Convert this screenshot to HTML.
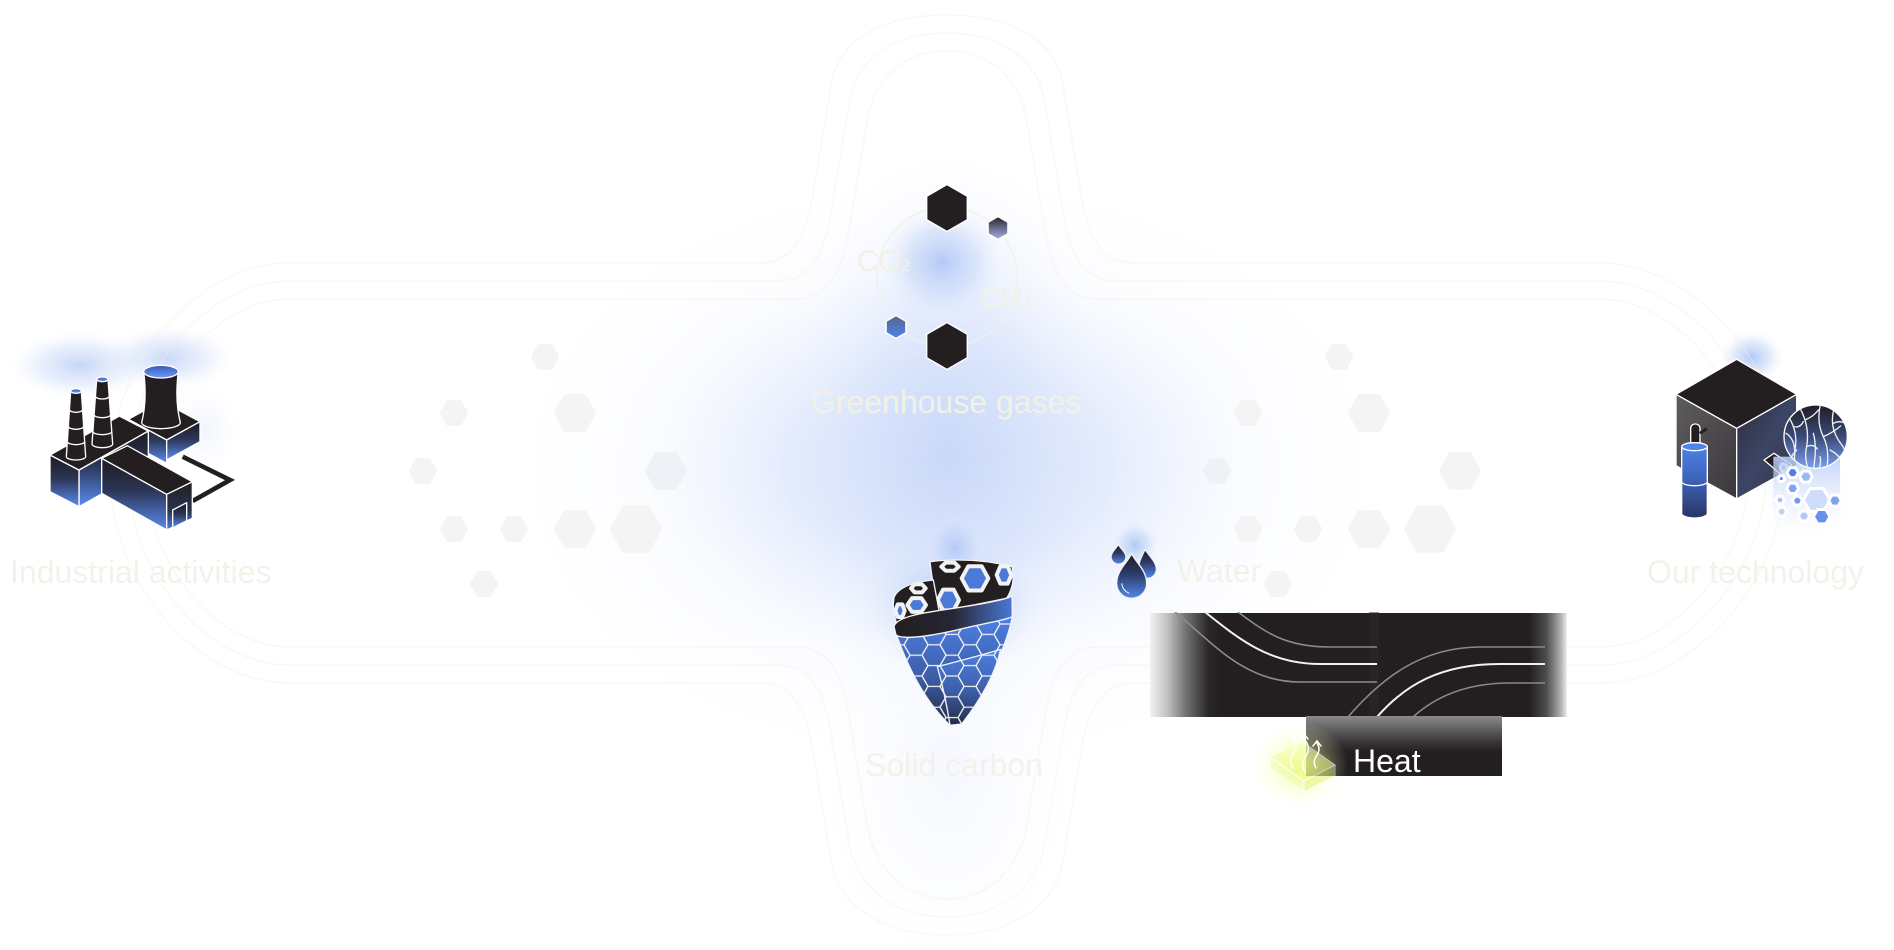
<!DOCTYPE html>
<html>
<head>
<meta charset="utf-8">
<style>
html,body{margin:0;padding:0;background:#ffffff;}
body{width:1894px;height:950px;overflow:hidden;}
svg{display:block;}
text{font-family:"Liberation Sans",Arial,sans-serif;}
</style>
</head>
<body>
<svg width="1894" height="950" viewBox="0 0 1894 950" xmlns="http://www.w3.org/2000/svg">
<defs>
  <radialGradient id="rgMain"><stop offset="0" stop-color="#c9d8f9" stop-opacity="1"/><stop offset="0.5" stop-color="#d6e2fb" stop-opacity="0.65"/><stop offset="1" stop-color="#eef3fe" stop-opacity="0"/></radialGradient>
  <radialGradient id="rgStrong"><stop offset="0" stop-color="#b3c9f6" stop-opacity="1"/><stop offset="0.55" stop-color="#c6d7f8" stop-opacity="0.55"/><stop offset="1" stop-color="#e6eefd" stop-opacity="0"/></radialGradient>
  <radialGradient id="rgSoft"><stop offset="0" stop-color="#f0f4fd" stop-opacity="1"/><stop offset="1" stop-color="#f8faff" stop-opacity="0"/></radialGradient>
  <radialGradient id="rgYellow"><stop offset="0" stop-color="#e8ff5a" stop-opacity="0.7"/><stop offset="0.5" stop-color="#f0ff96" stop-opacity="0.35"/><stop offset="1" stop-color="#fbffe0" stop-opacity="0"/></radialGradient>

  <linearGradient id="fblue" x1="0" y1="0" x2="0" y2="1"><stop offset="0" stop-color="#1d1b22"/><stop offset="0.45" stop-color="#2c3556"/><stop offset="1" stop-color="#5a8cf0"/></linearGradient>
  <linearGradient id="fblue2" x1="0" y1="0" x2="0" y2="1"><stop offset="0" stop-color="#231f20"/><stop offset="0.6" stop-color="#2a3350"/><stop offset="1" stop-color="#4f7fe0"/></linearGradient>
  <linearGradient id="ftop" x1="0" y1="0" x2="0" y2="1"><stop offset="0" stop-color="#3759b8"/><stop offset="1" stop-color="#6f9bf6"/></linearGradient>
  <linearGradient id="hexTR" x1="0" y1="0" x2="0" y2="1"><stop offset="0" stop-color="#262229"/><stop offset="1" stop-color="#aab2e8"/></linearGradient>
  <linearGradient id="hexBL" x1="0" y1="0" x2="0" y2="1"><stop offset="0" stop-color="#5b6486"/><stop offset="1" stop-color="#4a85ee"/></linearGradient>
  <linearGradient id="coneBody" x1="0" y1="0" x2="0" y2="1"><stop offset="0" stop-color="#4d80e6"/><stop offset="0.55" stop-color="#3d5ea8"/><stop offset="1" stop-color="#232b45"/></linearGradient>
  <linearGradient id="coneBand" x1="0" y1="0" x2="1" y2="0"><stop offset="0" stop-color="#231f20"/><stop offset="0.5" stop-color="#262633"/><stop offset="1" stop-color="#4a78d8"/></linearGradient>
  <linearGradient id="drop" x1="0" y1="0" x2="0" y2="1"><stop offset="0" stop-color="#1f1c22"/><stop offset="0.45" stop-color="#2d3a66"/><stop offset="1" stop-color="#5288ee"/></linearGradient>
  <linearGradient id="band" x1="1150" y1="0" x2="1567" y2="0" gradientUnits="userSpaceOnUse">
    <stop offset="0" stop-color="#f2f2f2"/><stop offset="0.04" stop-color="#c4c4c4"/><stop offset="0.09" stop-color="#6e6c6d"/><stop offset="0.14" stop-color="#2a2728"/><stop offset="0.17" stop-color="#231f20"/>
    <stop offset="0.91" stop-color="#231f20"/><stop offset="0.95" stop-color="#4e4c4d"/><stop offset="0.985" stop-color="#b0b0b0"/><stop offset="1" stop-color="#eeeeee"/>
  </linearGradient>
  <linearGradient id="heatbox" x1="0" y1="0" x2="0" y2="1"><stop offset="0" stop-color="#8a8a8a"/><stop offset="0.42" stop-color="#3b3839"/><stop offset="0.6" stop-color="#231f20"/><stop offset="1" stop-color="#231f20"/></linearGradient>
  <linearGradient id="cubeL" x1="0" y1="0" x2="1" y2="1"><stop offset="0" stop-color="#5e5c5e"/><stop offset="1" stop-color="#3a383b"/></linearGradient>
  <linearGradient id="cubeR" x1="0" y1="0" x2="1" y2="1"><stop offset="0" stop-color="#2f2e3a"/><stop offset="0.5" stop-color="#3c4566"/><stop offset="1" stop-color="#353539"/></linearGradient>
  <linearGradient id="tank" x1="0" y1="0" x2="0" y2="1"><stop offset="0" stop-color="#4f84ec"/><stop offset="0.5" stop-color="#3d62b8"/><stop offset="1" stop-color="#2a3464"/></linearGradient>
  <linearGradient id="sphere" x1="0" y1="0" x2="0" y2="1"><stop offset="0" stop-color="#1f1d26"/><stop offset="0.5" stop-color="#3a4a78"/><stop offset="1" stop-color="#7aa0f0"/></linearGradient>
  <linearGradient id="hexFade" x1="0" y1="0" x2="0" y2="1"><stop offset="0" stop-color="#b9cdf8" stop-opacity="0.9"/><stop offset="1" stop-color="#eef3fe" stop-opacity="0"/></linearGradient>
  <linearGradient id="slab" x1="0" y1="0" x2="0" y2="1"><stop offset="0" stop-color="#f6ffb8"/><stop offset="1" stop-color="#e8f77a"/></linearGradient>

  <pattern id="hexpat" width="108" height="62.4" patternUnits="userSpaceOnUse">
    <path d="M0 31.2 L18 0 L54 0 L72 31.2 L54 62.4 L18 62.4 Z M72 31.2 L108 31.2" fill="none" stroke="#f2f2f2" stroke-width="4" stroke-linejoin="round"/>
  </pattern>

  <path id="hx" d="M-1 0 L-0.5 -0.866 L0.5 -0.866 L1 0 L0.5 0.866 L-0.5 0.866Z" vector-effect="non-scaling-stroke"/>
  <path id="hp" d="M0 -1 L0.866 -0.5 L0.866 0.5 L0 1 L-0.866 0.5 L-0.866 -0.5Z" vector-effect="non-scaling-stroke"/>

  <clipPath id="bandClipL"><rect x="1150" y="612" width="228" height="105"/></clipPath>
  <clipPath id="bandClipR"><rect x="1320" y="612" width="247" height="105"/></clipPath>
  <clipPath id="sphereClip"><circle cx="647" cy="410" r="93"/></clipPath>
</defs>

<!-- background glows -->
<ellipse cx="948" cy="470" rx="440" ry="300" fill="url(#rgMain)" opacity="0.35"/>
<ellipse cx="948" cy="465" rx="300" ry="200" fill="url(#rgMain)" opacity="0.95"/>
<ellipse cx="948" cy="440" rx="160" ry="290" fill="url(#rgMain)" opacity="0.7"/>
<ellipse cx="947" cy="770" rx="130" ry="200" fill="url(#rgSoft)" opacity="0.7"/>
<ellipse cx="942" cy="262" rx="62" ry="58" fill="url(#rgStrong)"/>
<ellipse cx="952" cy="605" rx="95" ry="70" fill="url(#rgStrong)" opacity="0.85"/>
<ellipse cx="955" cy="548" rx="30" ry="35" fill="url(#rgStrong)"/>
<ellipse cx="1135" cy="545" rx="24" ry="24" fill="url(#rgStrong)"/>
<ellipse cx="80" cy="365" rx="70" ry="34" fill="url(#rgStrong)" opacity="0.75"/>
<ellipse cx="168" cy="358" rx="65" ry="32" fill="url(#rgStrong)" opacity="0.7"/>
<ellipse cx="205" cy="430" rx="35" ry="45" fill="url(#rgSoft)"/>
<ellipse cx="1752" cy="357" rx="32" ry="26" fill="url(#rgStrong)"/>
<ellipse cx="1805" cy="495" rx="50" ry="45" fill="url(#rgSoft)"/>

<!-- faint outline shape (three concentric lines) -->
<g fill="none" stroke="#efeee4" stroke-width="1.3" opacity="0.42">
  <path d="M289 263 L760 263 C790 263 805 240 812 200 L832 80 C842 35 890 15 947 15 C1004 15 1052 35 1062 80 L1082 200 C1089 240 1104 263 1134 263 L1600 263 C1690 263 1784 360 1784 473 C1784 586 1690 683 1600 683 L1134 683 C1104 683 1089 706 1082 746 L1062 866 C1052 911 1004 935 947 935 C890 935 842 911 832 866 L812 746 C805 706 790 683 760 683 L289 683 C200 683 110 586 110 473 C110 360 200 263 289 263 Z"/>
  <path d="M289 281 L778 281 C808 281 823 258 830 218 L850 98 C860 53 900 33 947 33 C994 33 1034 53 1044 98 L1064 218 C1071 258 1086 281 1116 281 L1600 281 C1680 281 1766 370 1766 473 C1766 576 1680 665 1600 665 L1116 665 C1086 665 1071 688 1064 728 L1044 848 C1034 893 994 917 947 917 C900 917 860 893 850 848 L830 728 C823 688 808 665 778 665 L289 665 C210 665 128 576 128 473 C128 370 210 281 289 281 Z"/>
  <path d="M289 299 L796 299 C826 299 841 276 848 236 L868 116 C878 71 910 51 947 51 C984 51 1016 71 1026 116 L1046 236 C1053 276 1068 299 1098 299 L1600 299 C1672 299 1748 380 1748 473 C1748 566 1672 647 1600 647 L1098 647 C1068 647 1053 670 1046 710 L1026 830 C1016 875 984 899 947 899 C910 899 878 875 868 830 L848 710 C841 670 826 647 796 647 L289 647 C218 647 146 566 146 473 C146 380 218 299 289 299 Z"/>
</g>

<!-- faint hex clusters -->
<g fill="#f4f4f4" stroke="#f4f4f4" stroke-width="4" stroke-linejoin="round">
  <use href="#hx" transform="translate(545,357) scale(12,12.6)"/>
  <use href="#hx" transform="translate(454,413) scale(12,12.6)"/>
  <use href="#hx" transform="translate(575,413) scale(19,19.5)"/>
  <use href="#hx" transform="translate(423,471) scale(12,12.6)"/>
  <use href="#hx" transform="translate(666,471) scale(19,19.5)" fill="#eff1f6" stroke="#eff1f6"/>
  <use href="#hx" transform="translate(454,529) scale(12,12.6)"/>
  <use href="#hx" transform="translate(514,529) scale(12,12.6)"/>
  <use href="#hx" transform="translate(575,529) scale(19,19.5)"/>
  <use href="#hx" transform="translate(636,529) scale(24,25)"/>
  <use href="#hx" transform="translate(484,584) scale(12,12.6)"/>

  <use href="#hx" transform="translate(1339,357) scale(12,12.6)"/>
  <use href="#hx" transform="translate(1248,413) scale(12,12.6)"/>
  <use href="#hx" transform="translate(1369,413) scale(19,19.5)"/>
  <use href="#hx" transform="translate(1217,471) scale(12,12.6)" fill="#eff1f6" stroke="#eff1f6"/>
  <use href="#hx" transform="translate(1460,471) scale(19,19.5)"/>
  <use href="#hx" transform="translate(1248,529) scale(12,12.6)"/>
  <use href="#hx" transform="translate(1308,529) scale(12,12.6)"/>
  <use href="#hx" transform="translate(1369,529) scale(19,19.5)"/>
  <use href="#hx" transform="translate(1430,529) scale(24,25)"/>
  <use href="#hx" transform="translate(1278,584) scale(12,12.6)"/>
</g>

<!-- molecule ring -->
<circle cx="947" cy="277" r="70" fill="none" stroke="#f1efe4" stroke-width="1.4" opacity="0.8"/>
<g stroke="#ffffff" stroke-width="1.5" stroke-linejoin="round">
  <use href="#hp" transform="translate(947,208) scale(23.5)" fill="#231f20"/>
  <use href="#hp" transform="translate(947,346) scale(23.5)" fill="#231f20"/>
  <use href="#hp" transform="translate(998,228) scale(11.5)" fill="url(#hexTR)"/>
  <use href="#hp" transform="translate(896,327) scale(11.5)" fill="url(#hexBL)"/>
</g>
<text x="857" y="271" font-size="30" fill="#f3f1e6" letter-spacing="-0.5">CO<tspan font-size="17">2</tspan></text>
<text x="980" y="308" font-size="30" fill="#f3f1e6" letter-spacing="-0.5">CH<tspan font-size="17">4</tspan></text>

<!-- FACTORY -->
<g transform="translate(0,300) scale(0.33333)" stroke="#ffffff" stroke-width="4" stroke-linejoin="round">
  <polygon points="385,358 485,303 600,365 500,420" fill="#231f20"/>
  <polygon points="385,358 500,420 500,490 385,428" fill="url(#fblue)"/>
  <polygon points="500,420 600,365 600,425 500,480" fill="url(#fblue)"/>
  <path d="M548 470 L690 540 L578 603" fill="none" stroke="#ffffff" stroke-width="22" stroke-linejoin="miter"/>
  <path d="M548 470 L690 540 L578 603" fill="none" stroke="#231f20" stroke-width="14" stroke-linejoin="miter"/>
  <polygon points="237,510 445,393 445,503 237,620" fill="url(#fblue)"/>
  <polygon points="150,465 237,510 237,620 150,575" fill="url(#fblue)"/>
  <polygon points="150,465 358,348 445,393 237,510" fill="#231f20"/>
  <polygon points="305,475 500,583 500,690 305,580" fill="url(#fblue)"/>
  <polygon points="500,583 577,545 577,655 500,690" fill="url(#fblue2)"/>
  <polygon points="305,475 382,437 577,545 500,583" fill="#231f20"/>
  <polygon points="518,630 560,608 560,662 518,684" fill="url(#fblue)"/>
  <path d="M212 273 L199 470 A29 10 0 0 0 257 470 L244 273 Z" fill="#231f20"/>
  <path d="M209.7 330 A18.3 7 0 0 0 246.3 330 M205.9 380 A22.1 8 0 0 0 250.1 380 M202.4 425 A25.6 9 0 0 0 253.6 425" fill="none"/>
  <ellipse cx="228" cy="273" rx="16" ry="7" fill="url(#ftop)"/>
  <path d="M290 238 L276 432 A31 11 0 0 0 338 432 L324 238 Z" fill="#231f20"/>
  <path d="M287.7 290 A19.3 7 0 0 0 326.3 290 M283.2 345 A23.8 8 0 0 0 330.8 345 M279.1 395 A27.9 9 0 0 0 334.9 395" fill="none"/>
  <ellipse cx="307" cy="238" rx="17" ry="7" fill="url(#ftop)"/>
  <path d="M431 215 Q442 300 425 368 A58 18 0 0 0 541 368 Q524 300 535 215 Z" fill="#231f20"/>
  <ellipse cx="483" cy="215" rx="52" ry="19" fill="url(#ftop)"/>
</g>
<text x="10" y="583" font-size="32" fill="#f3f2ea">Industrial activities</text>

<!-- SOLID CARBON cone + water (zoom5 coords) -->
<g transform="translate(850,520) scale(0.33333)" stroke="#f4f4f4" stroke-width="4" stroke-linejoin="round">
  <path d="M240 125 Q370 110 486 140 Q498 190 470 235 L268 276 Q248 200 240 125 Z" fill="#231f20"/>
  <g fill="#4a7ad8" stroke="#f2f2f2" stroke-width="4">
    <use href="#hx" transform="translate(375,175) scale(40,42)"/>
    <use href="#hx" transform="translate(295,240) scale(32,36)"/>
    <use href="#hx" transform="translate(462,165) scale(22,30)"/>
    <use href="#hx" transform="translate(300,140) scale(26,14)" fill="#231f20"/>
  </g>
  <path d="M132 232 Q150 190 250 180 L268 276 Q200 290 140 310 Q125 270 132 232 Z" fill="#231f20"/>
  <g fill="#4a7ad8" stroke="#f2f2f2" stroke-width="4">
    <use href="#hx" transform="translate(200,255) scale(28,24)"/>
    <use href="#hx" transform="translate(150,272) scale(14,22)"/>
    <use href="#hx" transform="translate(205,205) scale(22,14)" fill="#231f20"/>
  </g>
  <!-- cone body -->
  <path d="M138 340 C160 360 230 350 320 330 C400 310 470 300 487 290 Q462 420 335 612 L300 616 Q200 520 138 340 Z" fill="url(#coneBody)"/>
  <path d="M138 340 C160 360 230 350 320 330 C400 310 470 300 487 290 Q462 420 335 612 L300 616 Q200 520 138 340 Z" fill="url(#hexpat)" stroke="none"/>
  <!-- front overlapping sheet -->
  <path d="M262 440 C320 425 395 405 452 388 Q430 490 335 612 L300 616 Q285 520 262 440 Z" fill="url(#coneBody)"/>
  <path d="M262 440 C320 425 395 405 452 388 Q430 490 335 612 L300 616 Q285 520 262 440 Z" fill="url(#hexpat)" stroke="none"/>
  <!-- dark band -->
  <path d="M132 320 C140 285 250 275 330 262 C420 248 470 238 486 228 L487 290 C470 300 400 310 320 330 C230 350 160 360 138 345 Z" fill="url(#coneBand)"/>

  <!-- water drops -->
  <path d="M805 72 C810 85 828 96 828 110 A22 22 0 0 1 783 110 C783 96 800 85 805 72 Z" fill="url(#drop)"/>
  <path d="M885 88 C895 105 919 125 919 148 A27 27 0 0 1 865 148 C865 125 878 105 885 88 Z" fill="url(#drop)"/>
  <path d="M845 100 C855 125 890 150 890 190 A45 45 0 0 1 800 190 C800 150 835 125 845 100 Z" fill="url(#drop)"/>
  <path d="M815 190 Q818 212 838 220" fill="none" stroke-width="3"/>
</g>
<text x="865" y="776" font-size="32" fill="#f3f2ea">Solid carbon</text>
<text x="811" y="413" font-size="32" fill="#f3f1e6">Greenhouse gases</text>
<text x="1177" y="582" font-size="32" fill="#f3f2ea">Water</text>

<!-- DARK BAND with curves -->
<rect x="1150" y="613" width="417" height="104" fill="url(#band)"/>
<rect x="1369" y="612" width="10" height="105" fill="#2c292a" opacity="0.5"/>
<g fill="none" clip-path="url(#bandClipL)">
  <path d="M1175 612 C1215 645 1245 682 1300 682 L1377 682" stroke="#8c8c8c" stroke-width="1.6"/>
  <path d="M1205 612 C1240 640 1270 664 1320 664 L1377 664" stroke="#f2f2f2" stroke-width="2"/>
  <path d="M1238 612 C1265 632 1285 647 1330 647 L1377 647" stroke="#8a8a8a" stroke-width="1.6"/>
</g>
<g fill="none" clip-path="url(#bandClipR)">
  <path d="M1348 717 C1380 680 1420 647 1480 647 L1545 647" stroke="#8a8a8a" stroke-width="1.6"/>
  <path d="M1377 717 C1405 685 1440 664 1500 664 L1545 664" stroke="#f2f2f2" stroke-width="2"/>
  <path d="M1413 717 C1435 697 1465 683 1510 683 L1545 683" stroke="#8a8a8a" stroke-width="1.6"/>
</g>

<!-- HEAT box -->
<rect x="1306" y="716" width="196" height="60" fill="url(#heatbox)"/>
<text x="1353" y="772" font-size="32" fill="#ffffff">Heat</text>
<ellipse cx="1300" cy="765" rx="48" ry="44" fill="url(#rgYellow)"/>
<g stroke="#ffffff" stroke-width="1.2" stroke-linejoin="round" opacity="0.75">
  <polygon points="1270,757 1301,741 1335,765 1304,781" fill="url(#slab)" opacity="0.75"/>
  <polygon points="1270,757 1304,781 1304,792 1270,768" fill="#eef9a0" opacity="0.6"/>
  <polygon points="1304,781 1335,765 1335,776 1304,792" fill="#e0f070" opacity="0.6"/>
</g>
<g fill="none" stroke="#ffffff" stroke-width="1.5" stroke-linecap="round">
  <path d="M1293 768 Q1288 760 1294 752 Q1299 744 1293 736 L1292 729"/>
  <path d="M1288 733 L1292 728 L1296 733"/>
  <path d="M1305 772 Q1300 764 1306 756 Q1311 748 1305 740 L1304 735"/>
  <path d="M1300 739 L1304 734 L1308 739"/>
  <path d="M1316 768 Q1312 762 1317 755 Q1321 749 1317 743"/>
  <path d="M1313 746 L1317 741 L1321 746"/>
</g>

<!-- TECH icon (zoom4 coords) -->
<g transform="translate(1600,300) scale(0.33333)" stroke="#ffffff" stroke-width="4" stroke-linejoin="round">
  <polygon points="228,283 410,385 410,597 228,497" fill="url(#cubeL)"/>
  <polygon points="410,385 590,283 590,497 410,597" fill="url(#cubeR)"/>
  <polygon points="228,283 410,178 590,283 410,385" fill="#231f20"/>
  <path d="M492 480 L522 460 L575 495 L545 525 Z" fill="#231f20"/>
  <ellipse cx="555" cy="508" rx="14" ry="21" transform="rotate(-35 555 508)" fill="#e8eefc"/>
  <circle cx="551" cy="503" r="5" fill="#4a7fe8" stroke="none"/>
  <circle cx="560" cy="514" r="4" fill="#4a7fe8" stroke="none"/>
  <rect x="520" y="470" width="200" height="215" fill="url(#hexFade)" stroke="none"/>
  <g stroke="#ffffff" stroke-width="3">
    <use href="#hx" transform="translate(650,600) scale(40)" fill="#cfdcfa"/>
    <use href="#hx" transform="translate(578,518) scale(17)" fill="#4a7fe8"/>
    <use href="#hx" transform="translate(544,536) scale(10)" fill="#4a7fe8"/>
    <use href="#hx" transform="translate(618,530) scale(19)" fill="#9ab8f5"/>
    <use href="#hx" transform="translate(578,565) scale(18)" fill="#7fa3f0"/>
    <use href="#hx" transform="translate(540,600) scale(13)" fill="#a9c1f6"/>
    <use href="#hx" transform="translate(592,602) scale(15)" fill="#6f98ee"/>
    <use href="#hx" transform="translate(665,650) scale(25)" fill="#6790ec"/>
    <use href="#hx" transform="translate(705,602) scale(19)" fill="#7fa3f0"/>
    <use href="#hx" transform="translate(545,635) scale(15)" fill="#bfd1f8"/>
    <use href="#hx" transform="translate(612,648) scale(17)" fill="#b3c8f7"/>
  </g>
  <circle cx="647" cy="410" r="95" fill="url(#sphere)"/>
  <g clip-path="url(#sphereClip)" fill="none" stroke="#f2f2f2" stroke-width="4" stroke-linecap="round">
    <path d="M565 350 Q595 395 585 450 Q580 480 590 510 M600 325 Q630 380 620 440 Q612 470 625 510 M558 400 Q590 420 583 475"/>
    <path d="M660 318 Q650 370 670 410 Q690 450 680 510 M700 335 Q690 380 715 420 Q730 440 740 460 M640 400 Q652 440 640 510"/>
    <path d="M620 440 Q640 430 652 447 M670 410 Q695 400 722 378 M590 450 Q570 470 566 495 M615 360 Q640 350 655 330"/>
    <path d="M580 380 Q600 385 610 365 M690 450 Q710 460 725 480 M660 470 Q665 490 655 510 M700 370 Q720 360 735 370"/>
  </g>
  <rect x="272" y="372" width="28" height="80" rx="13" fill="#231f20"/>
  <path d="M300 400 L320 386" stroke="#231f20" stroke-width="9"/>
  <path d="M245 440 L245 640 A38.5 14 0 0 0 322 640 L322 440 A38.5 12 0 0 0 245 440 Z" fill="url(#tank)"/>
  <ellipse cx="283.5" cy="440" rx="38.5" ry="12" fill="#4f84ec"/>
  <path d="M245 545 A38.5 12 0 0 0 322 545" fill="none"/>
</g>
<text x="1647" y="583" font-size="32" fill="#f3f2ea">Our technology</text>
</svg>
</body>
</html>
